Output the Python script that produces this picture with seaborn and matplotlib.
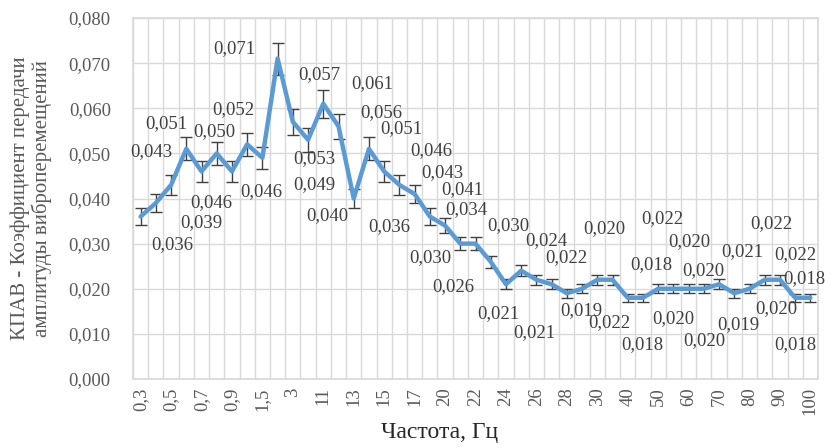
import numpy as np
import pandas as pd
import matplotlib
matplotlib.use("Agg")
import matplotlib.pyplot as plt
import seaborn as sns
from matplotlib.ticker import FixedLocator, FuncFormatter

# frequency categories (Hz) and transfer coefficient
freq = ["0,3", "0,4", "0,5", "0,6", "0,7", "0,8", "0,9", "1", "1,5", "2",
        "3", "10", "11", "12", "13", "14", "15", "16", "17", "18",
        "20", "21", "22", "23", "24", "25", "26", "27", "28", "29",
        "30", "35", "40", "45", "50", "55", "60", "65", "70", "75",
        "80", "85", "90", "95", "100"]
kpav = [0.036, 0.039, 0.043, 0.051, 0.046, 0.050, 0.046, 0.052, 0.049, 0.071,
        0.057, 0.053, 0.061, 0.056, 0.040, 0.051, 0.046, 0.043, 0.041, 0.036,
        0.034, 0.030, 0.030, 0.026, 0.021, 0.024, 0.022, 0.021, 0.019, 0.020,
        0.022, 0.022, 0.018, 0.018, 0.020, 0.020, 0.020, 0.020, 0.021, 0.019,
        0.020, 0.022, 0.022, 0.018, 0.018]
err_pct = 0.05  # error bars: 5 %

# data-label offsets in pixels (dx right, dy down), hand placed like the original
lbl_off = [(32, 28), (45, 20), (-20, -33), (-20, -25), (10, 31), (-2, -22), (29, 20),
           (-14, -35), (52, 27), (-43, -10), (26, -47), (6, 19), (49, -20), (43, -14),
           (-26, 17), (32, -20), (47, -21), (43, -12), (48, -4), (-41, 10), (21, -16),
           (-30, 14), (33, -18), (-37, 25), (-8, 29), (25, -30), (30, -22), (-17, 48),
           (14, 17), (22, -60), (12, 43), (50, -61), (15, 47), (8, -33), (15, 30),
           (16, -47), (16, 52), (-1, -18), (23, -33), (4, 31), (27, 20), (7, -56),
           (15, -25), (9, -19), (-15, 47)]

df = pd.DataFrame({"pos": np.arange(len(freq)), "freq": freq, "kpav": kpav})

sns.set_theme(style="white")
plt.rcParams["font.family"] = ["Liberation Serif", "DejaVu Serif"]

fig = plt.figure(figsize=(8.25, 4.48), dpi=100)
ax = fig.add_axes([133/825, 1-379/448, (818-133)/825, (379-18)/448])

ax.errorbar(df["pos"], df["kpav"], yerr=df["kpav"]*err_pct, fmt="none",
            ecolor="#404040", elinewidth=1, capsize=4, capthick=1, zorder=2)
sns.lineplot(data=df, x="pos", y="kpav", color="#5B9BD5", linewidth=3.2,
             ax=ax, zorder=3)

for i, row in df.iterrows():
    dx, dy = lbl_off[i]
    ax.annotate(f"{row['kpav']:.3f}".replace(".", ","), (row["pos"], row["kpav"]),
                xytext=(dx, -dy), textcoords="offset pixels",
                ha="center", va="center", fontsize=13.5, color="#404040", zorder=4)

ax.set_xlim(-0.5, len(freq) - 0.5)
ax.set_ylim(0, 0.08)
ax.set_yticks(np.arange(0, 0.081, 0.01))
ax.yaxis.set_major_formatter(FuncFormatter(lambda v, p: f"{v:.3f}".replace(".", ",")))

ax.xaxis.set_major_locator(FixedLocator(df["pos"][::2]))
ax.set_xticklabels(df["freq"][::2], rotation=90)
ax.xaxis.set_minor_locator(FixedLocator(np.arange(-0.5, len(freq), 1)))

ax.grid(False)
ax.grid(axis="y", which="major", color="#D9D9D9", linewidth=1)
ax.grid(axis="x", which="minor", color="#D9D9D9", linewidth=1)
for s in ax.spines.values():
    s.set_color("#D9D9D9")
ax.tick_params(axis="both", which="both", length=0, labelsize=13.5, colors="#595959")
ax.tick_params(axis="y", pad=16)
ax.tick_params(axis="x", pad=6)

ax.set_xlabel("Частота, Гц", fontsize=17, color="#262626")
ax.xaxis.set_label_coords(0.448, -0.118)
ax.set_ylabel("КПАВ - Коэффициент передачи\nамплитуды виброперемещений",
              fontsize=15, color="#595959", linespacing=1.1)
ax.yaxis.set_label_coords(-0.118, 0.5)

fig.savefig("out.png", dpi=100)
